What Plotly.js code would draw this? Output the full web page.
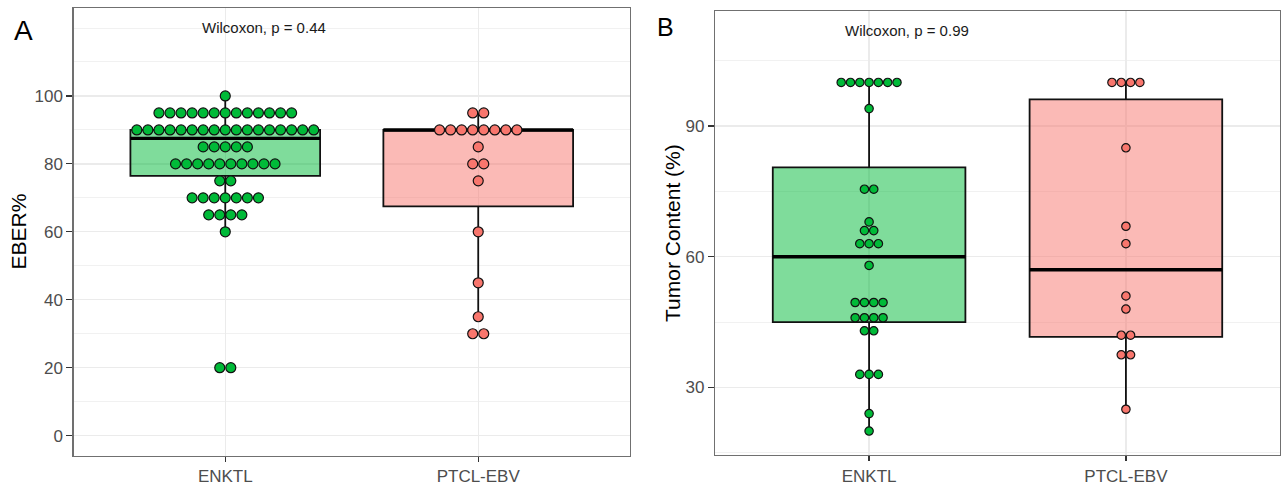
<!DOCTYPE html>
<html>
<head>
<meta charset="utf-8">
<script src="https://cdn.plot.ly/plotly-3.0.1.min.js"></script>
<style>html,body{margin:0;padding:0;background:#fff;}</style>
</head>
<body>
<div id="chart" style="width:1281px;height:485px;"></div>
<script>
// ---------- data ----------
const categories = ['ENKTL', 'PTCL-EBV'];

// Panel A: EBER% (dotplot values)
const eberENKTL = [100,
  95,95,95,95,95,95,95,95,95,95,95,95,95,
  90,90,90,90,90,90,90,90,90,90,90,90,90,90,90,90,90,
  85,85,85,85,85,
  80,80,80,80,80,80,80,80,80,80,
  75,75,
  70,70,70,70,70,70,70,
  65,65,65,65,
  60,
  20,20];
const eberPTCL = [95,95, 90,90,90,90,90,90,90,90, 85, 80,80, 75, 60, 45, 35, 30,30];

// Panel A box statistics [ENKTL, PTCL-EBV]
const eberQ1 = [76.5, 67.5];
const eberMedian = [87.5, 90];
const eberQ3 = [90, 90];
const eberLower = [60, 35];
const eberUpper = [100, 95];

// Panel B: Tumor Content (%) (dotplot values)
const tumorENKTL = [100,100,100,100,100,100,100, 94, 75.5,75.5, 68, 66,66, 63,63,63, 58,
  49.5,49.5,49.5,49.5, 46,46,46,46, 43,43, 33,33,33, 24, 20];
const tumorPTCL = [100,100,100,100, 85, 67, 63, 51, 48, 42,42, 37.5,37.5, 25];

// Panel B box statistics [ENKTL, PTCL-EBV]
const tumorQ1 = [45, 41.6];
const tumorMedian = [60, 57];
const tumorQ3 = [80.5, 96.1];
const tumorLower = [20, 25];
const tumorUpper = [100, 100];

const yTicksA = [0, 20, 40, 60, 80, 100];
const yTicksB = [30, 60, 90];
const pLabelA = 'Wilcoxon, p = 0.44';
const pLabelB = 'Wilcoxon, p = 0.99';

// ---------- styles ----------
const FONT = 'Liberation Sans, Arial, Helvetica, sans-serif';
const boxFill = ['rgba(0,186,56,0.5)', 'rgba(248,118,109,0.5)'];
const dotFill = ['#00BA38', '#F8766D'];

// centred dot stacking (geom_dotplot, stackdir = "center")
function dotStack(values, center, step) {
  const counts = new Map();
  values.forEach(v => counts.set(v, (counts.get(v) || 0) + 1));
  const xs = [], ys = [];
  counts.forEach((n, v) => {
    for (let i = 0; i < n; i++) { xs.push(center + (i - (n - 1) / 2) * step); ys.push(v); }
  });
  return {x: xs, y: ys};
}

function boxTraces(xa, ya, q1, med, q3, lo, hi) {
  const out = [];
  for (let i = 0; i < 2; i++) {
    out.push({type: 'box', x: [i + 1], q1: [q1[i]], median: [med[i]], q3: [q3[i]],
      lowerfence: [lo[i]], upperfence: [hi[i]], width: 0.75, whiskerwidth: 0,
      boxpoints: false, fillcolor: boxFill[i], line: {color: '#111', width: 1.8},
      xaxis: xa, yaxis: ya, showlegend: false, hoverinfo: 'skip'});
    // thicker median bar
    out.push({type: 'box', x: [i + 1], q1: [med[i]], median: [med[i]], q3: [med[i]],
      lowerfence: [med[i]], upperfence: [med[i]], width: 0.75, whiskerwidth: 0,
      boxpoints: false, fillcolor: 'rgba(0,0,0,0)', line: {color: '#000', width: 3.4},
      xaxis: xa, yaxis: ya, showlegend: false, hoverinfo: 'skip'});
  }
  return out;
}

function dotTraces(xa, ya, groups, step, size) {
  return groups.map((vals, i) => {
    const d = dotStack(vals, i + 1, step);
    return {type: 'scatter', mode: 'markers', x: d.x, y: d.y, xaxis: xa, yaxis: ya,
      marker: {size: size, color: dotFill[i], line: {color: '#111', width: 1.2}},
      showlegend: false, hoverinfo: 'skip'};
  });
}

const traces = [].concat(
  boxTraces('x', 'y', eberQ1, eberMedian, eberQ3, eberLower, eberUpper),
  boxTraces('x2', 'y2', tumorQ1, tumorMedian, tumorQ3, tumorLower, tumorUpper),
  dotTraces('x', 'y', [eberENKTL, eberPTCL], 0.0437, 10),
  dotTraces('x2', 'y2', [tumorENKTL, tumorPTCL], 0.0362, 8.4)
);

function xAxis(domain, anchor) {
  return {domain: domain, anchor: anchor, range: [0.4, 2.6], tickmode: 'array',
    tickvals: [1, 2], ticktext: categories, showgrid: true, gridcolor: '#ebebeb', gridwidth: 1.3,
    zeroline: false, showline: true, mirror: true, linecolor: '#707070', linewidth: 1.2,
    ticks: 'outside', ticklen: 5, tickwidth: 1.2, tickcolor: '#333',
    tickfont: {family: FONT, size: 17, color: '#4d4d4d'}, fixedrange: true};
}
function yAxis(domain, anchor, range, tickvals, minorStep) {
  return {domain: domain, anchor: anchor, range: range, tickmode: 'array', tickvals: tickvals,
    showgrid: true, gridcolor: '#ebebeb', gridwidth: 1.3,
    minor: {tickmode: 'linear', tick0: 0, dtick: minorStep, showgrid: true,
      gridcolor: '#efefef', gridwidth: 0.9, ticks: ''},
    zeroline: false, showline: true, mirror: true, linecolor: '#707070', linewidth: 1.2,
    ticks: 'outside', ticklen: 6, tickwidth: 1.2, tickcolor: '#333',
    tickfont: {family: FONT, size: 17, color: '#4d4d4d'}, fixedrange: true};
}

const W = 1281, H = 485;
const layout = {
  width: W, height: H, margin: {l: 0, r: 0, t: 0, b: 0},
  paper_bgcolor: '#fff', plot_bgcolor: '#fff', showlegend: false,
  font: {family: FONT, color: '#000'},
  xaxis: xAxis([73.5 / W, 630 / W], 'y'),
  yaxis: yAxis([1 - 455.7 / H, 1 - 8.3 / H], 'x', [-5.9, 125.8], yTicksA, 10),
  xaxis2: xAxis([715 / W, 1280 / W], 'y2'),
  yaxis2: yAxis([1 - 455 / H, 1 - 11 / H], 'x2', [14.5, 116.4], yTicksB, 15),
  annotations: [
    {text: pLabelA, xref: 'x', yref: 'y', x: 0.9, y: 120, xanchor: 'left', yanchor: 'middle',
      showarrow: false, font: {family: FONT, size: 15, color: '#1a1a1a'}},
    {text: pLabelB, xref: 'x2', yref: 'y2', x: 0.9, y: 112, xanchor: 'left', yanchor: 'middle',
      showarrow: false, font: {family: FONT, size: 15, color: '#1a1a1a'}},
    {text: 'EBER%', xref: 'paper', yref: 'paper', x: 17.5 / W, y: 1 - 232 / H, textangle: -90,
      xanchor: 'center', yanchor: 'middle', showarrow: false, font: {family: FONT, size: 21, color: '#000'}},
    {text: 'Tumor Content (%)', xref: 'paper', yref: 'paper', x: 672 / W, y: 1 - 233 / H, textangle: -90,
      xanchor: 'center', yanchor: 'middle', showarrow: false, font: {family: FONT, size: 21, color: '#000'}},
    {text: 'A', xref: 'paper', yref: 'paper', x: 23 / W, y: 1 - 30 / H, xanchor: 'center', yanchor: 'middle',
      showarrow: false, font: {family: FONT, size: 28, color: '#000'}},
    {text: 'B', xref: 'paper', yref: 'paper', x: 665.5 / W, y: 1 - 27 / H, xanchor: 'center', yanchor: 'middle',
      showarrow: false, font: {family: FONT, size: 25, color: '#000'}}
  ]
};

Plotly.newPlot('chart', traces, layout, {displayModeBar: false, staticPlot: true});
</script>
</body>
</html>
